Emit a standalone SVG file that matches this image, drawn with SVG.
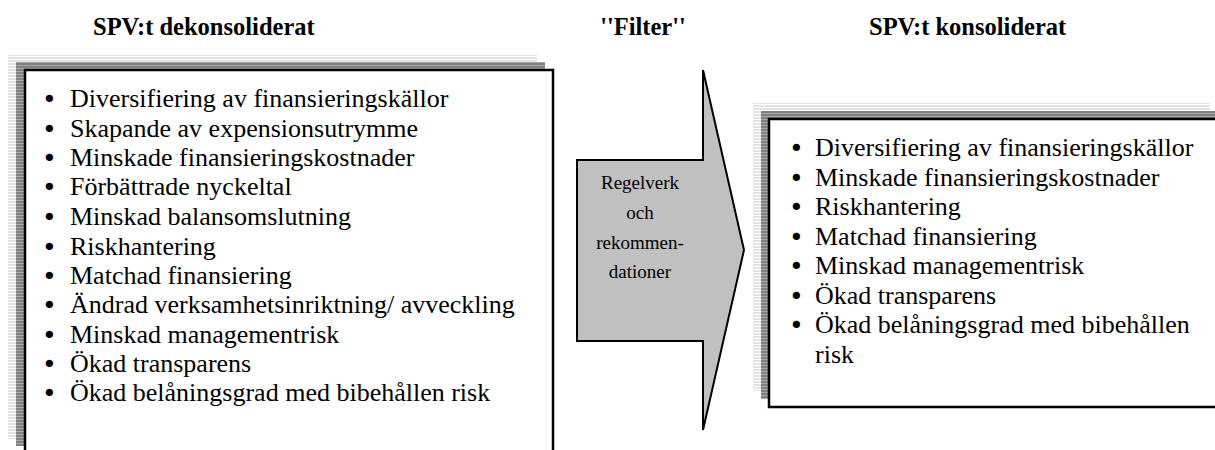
<svg xmlns="http://www.w3.org/2000/svg" width="1215" height="450" viewBox="0 0 1215 450">
<defs>
<pattern id="pLight" patternUnits="userSpaceOnUse" width="10" height="3"><rect width="10" height="3" fill="#ffffff"/><rect width="10" height="2" fill="#e3e3e3"/></pattern>
<pattern id="pDark" patternUnits="userSpaceOnUse" width="10" height="3"><rect width="10" height="3" fill="#a8a8a8"/><rect width="10" height="2" fill="#808080"/></pattern>
</defs>
<style>
.h{font-family:"Liberation Serif","Times New Roman",serif;font-weight:bold;font-size:24.5px;fill:#000}
.t{font-family:"Liberation Serif","Times New Roman",serif;font-size:26px;fill:#000}
.b{font-family:"DejaVu Sans",sans-serif;font-size:25px;fill:#000}
.a{font-family:"Liberation Serif","Times New Roman",serif;font-size:19px;fill:#000;text-anchor:middle}
.light{fill:url(#pLight)}
.dark{fill:url(#pDark)}
.box{fill:#fff;stroke:#000;stroke-width:2.5}
</style>
<rect width="1215" height="450" fill="#fff"/>
<text class="h" x="93" y="35">SPV:t dekonsoliderat</text>
<text class="h" x="643" y="35" text-anchor="middle">''Filter''</text>
<text class="h" x="869" y="35">SPV:t konsoliderat</text>
<g id="left-box">
<rect class="light" x="8" y="55" width="529" height="384"/>
<rect class="dark" x="16" y="62" width="529" height="384"/>
<rect class="box" x="25" y="70" width="528" height="400"/>
<g class="b">
<text x="42" y="108">•</text><text x="42" y="137.5">•</text><text x="42" y="167">•</text><text x="42" y="196">•</text><text x="42" y="226">•</text><text x="42" y="255.5">•</text><text x="42" y="285">•</text><text x="42" y="314">•</text><text x="42" y="343.5">•</text><text x="42" y="373">•</text><text x="42" y="402">•</text>
</g>
<g class="t">
<text x="70" y="107">Diversifiering av finansieringskällor</text>
<text x="70" y="136.5">Skapande av expensionsutrymme</text>
<text x="70" y="166">Minskade finansieringskostnader</text>
<text x="70" y="195">Förbättrade nyckeltal</text>
<text x="70" y="225">Minskad balansomslutning</text>
<text x="70" y="254.5">Riskhantering</text>
<text x="70" y="284">Matchad finansiering</text>
<text x="70" y="313">Ändrad verksamhetsinriktning/ avveckling</text>
<text x="70" y="342.5">Minskad managementrisk</text>
<text x="70" y="372">Ökad transparens</text>
<text x="70" y="401">Ökad belåningsgrad med bibehållen risk</text>
</g>
</g>
<g id="filter-arrow">
<polygon points="577,160 703,160 703,70 744,250 703,430 703,341 577,341" fill="#c0c0c0" stroke="#000" stroke-width="2"/>
<text class="a" x="640" y="189">Regelverk</text>
<text class="a" x="640" y="219">och</text>
<text class="a" x="640" y="249">rekommen-</text>
<text class="a" x="640" y="278">dationer</text>
</g>
<g id="right-box">
<rect class="light" x="753" y="103" width="457" height="288"/>
<rect class="dark" x="761" y="111" width="470" height="288"/>
<rect class="box" x="769" y="119" width="470" height="288"/>
<g class="b">
<text x="789" y="157">•</text><text x="789" y="186.5">•</text><text x="789" y="216">•</text><text x="789" y="245.5">•</text><text x="789" y="275">•</text><text x="789" y="304.5">•</text><text x="789" y="334">•</text>
</g>
<g class="t">
<text x="815" y="156">Diversifiering av finansieringskällor</text>
<text x="815" y="185.5">Minskade finansieringskostnader</text>
<text x="815" y="215">Riskhantering</text>
<text x="815" y="244.5">Matchad finansiering</text>
<text x="815" y="274">Minskad managementrisk</text>
<text x="815" y="303.5">Ökad transparens</text>
<text x="815" y="333">Ökad belåningsgrad med bibehållen</text>
<text x="815" y="362.5">risk</text>
</g>
</g>
</svg>
